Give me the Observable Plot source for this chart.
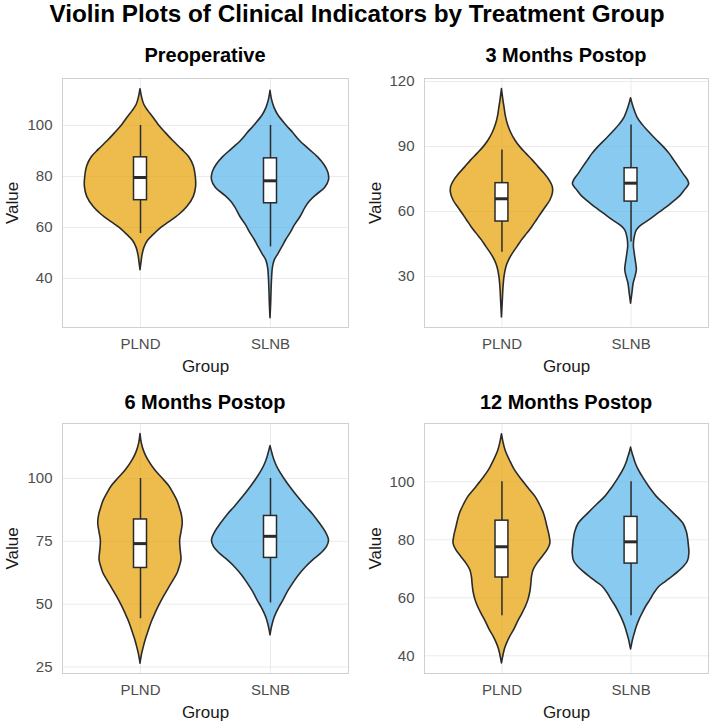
<!DOCTYPE html>
<html><head><meta charset="utf-8">
<script src="https://cdn.jsdelivr.net/npm/d3@7"></script>
<script src="https://cdn.jsdelivr.net/npm/@observablehq/plot@0.6"></script>
<style>
body{margin:0;background:#fff;font-family:"Liberation Sans",Arial,Helvetica,sans-serif;}
#wrap{position:relative;width:714px;height:724px;overflow:hidden;background:#fff}
.t{position:absolute;left:0;top:2px;width:714px;text-align:center;font-weight:bold;font-size:24.3px;line-height:24px;color:#000;white-space:nowrap}
.pt{position:absolute;text-align:center;font-weight:bold;font-size:20px;line-height:20px;color:#000;white-space:nowrap}
.p{position:absolute}
.p svg{display:block;overflow:visible}
g[aria-label="x-axis label"], g[aria-label="y-axis label"]{fill:#1a1a1a;font-size:17px}
</style>
</head><body>
<div id="wrap"><div class="t">Violin Plots of Clinical Indicators by Treatment Group</div></div>
<script>
const groups = ["PLND", "SLNB"];
const panelTitles = ["Preoperative", "3 Months Postop", "6 Months Postop", "12 Months Postop"];
const fills = ["#E69F00", "#56B4E9"];
const yTicks = [[40, 60, 80, 100], [30, 60, 90, 120], [25, 50, 75, 100], [40, 60, 80, 100]];
const yDomains = [[20.8, 118.4], [6.5, 121.4], [22.4, 121.9], [33.9, 120.1]];

// violin profiles: [value, half-width in group units]
const violinPreopPLND = [[114.2,0],[111,0.012],[108,0.03],[105.8,0.058],[103,0.1],[100,0.143],[97,0.195],[94,0.25],[90.5,0.32],[87.5,0.375],[84,0.41],[80,0.425],[76,0.428],[72,0.41],[68,0.36],[65,0.30],[62,0.22],[60,0.165],[57,0.10],[54.8,0.058],[52,0.03],[49,0.015],[46,0.007],[43.3,0]];
const violinPreopSLNB = [[113.6,0],[110,0.012],[107,0.03],[104,0.06],[100,0.123],[97,0.175],[94,0.225],[90.5,0.30],[87.5,0.366],[84.5,0.415],[81.5,0.445],[78.5,0.45],[75.5,0.42],[72.5,0.35],[70,0.30],[67.8,0.27],[64,0.23],[61,0.19],[57.4,0.15],[55,0.12],[52.2,0.09],[49.5,0.06],[47,0.032],[44,0.018],[40,0.012],[35,0.008],[30,0.005],[24.4,0]];
const violin3mPLND = [[116.5,0],[111,0.012],[108,0.02],[104,0.03],[100.4,0.045],[96.5,0.07],[92.7,0.105],[89.5,0.145],[86.6,0.19],[83.5,0.24],[80.4,0.285],[77.4,0.33],[74.3,0.37],[71.5,0.393],[68.5,0.395],[65.1,0.375],[62,0.34],[59,0.305],[55.9,0.27],[52.8,0.235],[49.7,0.195],[46.7,0.155],[43.6,0.12],[40.6,0.085],[37.5,0.055],[34.4,0.035],[30,0.02],[25,0.012],[18,0.006],[11.1,0]];
const violin3mSLNB = [[112.3,0],[108,0.02],[103.4,0.05],[100,0.09],[97.3,0.13],[93.5,0.19],[89.6,0.255],[86.5,0.30],[83.5,0.335],[80.5,0.37],[77.4,0.405],[74.5,0.44],[72.5,0.45],[70,0.42],[67,0.38],[64.5,0.33],[62,0.28],[59,0.21],[55.9,0.14],[53.5,0.08],[51.3,0.045],[48,0.028],[44,0.022],[40,0.03],[36,0.04],[33,0.045],[30,0.035],[26.7,0.02],[22,0.01],[17.5,0]];
const violin6mPLND = [[117.7,0],[114,0.01],[110.5,0.03],[107.3,0.06],[103.5,0.11],[100,0.17],[97,0.22],[94,0.255],[91,0.285],[88.7,0.30],[85.5,0.318],[82,0.325],[78.5,0.315],[75.4,0.305],[72,0.308],[67.5,0.315],[64.5,0.30],[62.2,0.285],[59.5,0.255],[56,0.215],[52.9,0.18],[49.5,0.145],[46.2,0.115],[43,0.088],[39.6,0.065],[36,0.042],[33,0.026],[30,0.012],[28,0.005],[26.3,0]];
const violin6mSLNB = [[112.9,0],[110.5,0.012],[108.6,0.022],[106,0.04],[103.3,0.065],[100,0.105],[96.7,0.15],[92.7,0.21],[88.7,0.275],[85.5,0.33],[82.1,0.38],[78.7,0.425],[75.4,0.45],[72.8,0.435],[70.1,0.39],[67.5,0.33],[64.8,0.275],[61.5,0.22],[58.2,0.175],[55,0.135],[51.5,0.10],[48.8,0.07],[46.2,0.045],[44,0.028],[42.2,0.018],[40,0.008],[37.6,0]];
const violin12mPLND = [[116.4,0],[113.5,0.012],[110.5,0.03],[107.5,0.06],[104,0.10],[100.6,0.155],[97.5,0.21],[94.8,0.26],[92,0.295],[89.1,0.325],[86.8,0.34],[84.5,0.352],[81.5,0.368],[78.7,0.375],[76.5,0.355],[74.1,0.315],[71.8,0.275],[69.5,0.245],[67,0.232],[64.9,0.228],[62,0.22],[59.2,0.205],[56.9,0.185],[54.6,0.16],[51.7,0.125],[48.9,0.095],[46.6,0.065],[44.3,0.04],[42.5,0.025],[40.8,0.015],[38.8,0.006],[37.4,0]];
const violin12mSLNB = [[111.8,0],[110,0.01],[108.6,0.02],[106.5,0.035],[104,0.06],[101,0.10],[98.3,0.14],[96.5,0.17],[94.8,0.20],[92,0.265],[89.1,0.33],[85.6,0.405],[83,0.43],[81,0.44],[78,0.448],[75.3,0.452],[72.5,0.44],[70.7,0.41],[69,0.37],[67.2,0.32],[65.5,0.27],[63.8,0.22],[61.5,0.18],[59.2,0.15],[57,0.118],[54.6,0.09],[52.3,0.065],[50,0.045],[47.5,0.028],[45.4,0.015],[43.5,0.006],[42.2,0]];

// box stats: [lower whisker, Q1, median, Q3, upper whisker] for PLND, SLNB
const boxPreop = [[57.6, 70.7, 79.6, 87.5, 100], [52.4, 69.5, 78.3, 87.1, 100]];
const box3m = [[41.2, 55.4, 65.9, 73.1, 88.4], [45.9, 64.6, 73.1, 80.0, 100]];
const box6m = [[44.2, 64.4, 74.1, 83.7, 100], [50.5, 68.4, 77.0, 85.1, 100]];
const box12m = [[53.8, 67.0, 77.6, 86.6, 100], [53.8, 71.8, 79.3, 87.9, 100]];

const violins = [[violinPreopPLND, violinPreopSLNB], [violin3mPLND, violin3mSLNB], [violin6mPLND, violin6mSLNB], [violin12mPLND, violin12mSLNB]];
const boxes = [boxPreop, box3m, box6m, box12m];

const layout = [
  {left: 0, top: 70, height: 307, ml: 62, mr: 9, lo: 57, tTop: 45},
  {left: 357, top: 70, height: 307, ml: 67, mr: 6, lo: 56, tTop: 45},
  {left: 0, top: 415, height: 308, ml: 62, mr: 9, lo: 57, tTop: 392},
  {left: 357, top: 415, height: 308, ml: 67, mr: 6, lo: 56, tTop: 392}
];
const LINE = "#2b2b2b";
const wrap = document.getElementById("wrap");

panelTitles.forEach((title, i) => {
  const L = layout[i];
  const marks = [
    Plot.gridY(yTicks[i], {stroke: "#ebebeb", strokeOpacity: 1, strokeWidth: 1}),
    Plot.gridX([1, 2], {stroke: "#ebebeb", strokeOpacity: 1, strokeWidth: 1}),
    Plot.frame({stroke: "#d0d0d0", strokeWidth: 1})
  ];
  groups.forEach((g, j) => {
    const c = j + 1;
    marks.push(Plot.areaX(violins[i][j], {
      y: d => d[0], x1: d => c - d[1], x2: d => c + d[1],
      fill: fills[j], fillOpacity: 0.7, stroke: LINE, strokeWidth: 1.6, curve: "catmull-rom"
    }));
  });
  const rows = boxes[i].map((b, j) => ({c: j + 1, lo: b[0], q1: b[1], med: b[2], q3: b[3], hi: b[4]}));
  marks.push(
    Plot.ruleX(rows, {x: "c", y1: "lo", y2: "hi", stroke: LINE, strokeWidth: 1.5}),
    Plot.rect(rows, {x1: d => d.c - 0.05, x2: d => d.c + 0.05, y1: "q1", y2: "q3", fill: "white", stroke: LINE, strokeWidth: 1.5}),
    Plot.ruleY(rows, {y: "med", x1: d => d.c - 0.05, x2: d => d.c + 0.05, stroke: LINE, strokeWidth: 3}),
    Plot.axisY({ticks: yTicks[i], tickSize: 0, tickPadding: 10, fontSize: 15, fill: "#4d4d4d",
      label: "Value", labelAnchor: "center", labelArrow: "none", labelOffset: L.lo}),
    Plot.axisX({ticks: [1, 2], tickFormat: d => groups[d - 1], tickSize: 0, tickPadding: 11, fontSize: 15, fill: "#4d4d4d",
      label: "Group", labelAnchor: "center", labelArrow: "none", labelOffset: 44})
  );
  const svg = Plot.plot({
    width: 357, height: L.height,
    marginLeft: L.ml, marginRight: L.mr, marginTop: 8, marginBottom: 50,
    style: {fontFamily: '"Liberation Sans", Arial, Helvetica, sans-serif', fontSize: "15px", background: "white", overflow: "visible"},
    x: {type: "linear", domain: [0.4, 2.6]},
    y: {type: "linear", domain: yDomains[i]},
    marks
  });
  const div = document.createElement("div");
  div.className = "p";
  div.style.left = L.left + "px";
  div.style.top = L.top + "px";
  div.appendChild(svg);
  wrap.appendChild(div);
  const t = document.createElement("div");
  t.className = "pt";
  t.textContent = title;
  t.style.left = (L.left + L.ml) + "px";
  t.style.width = (357 - L.ml - L.mr) + "px";
  t.style.top = L.tTop + "px";
  wrap.appendChild(t);
});
</script>
</body></html>
